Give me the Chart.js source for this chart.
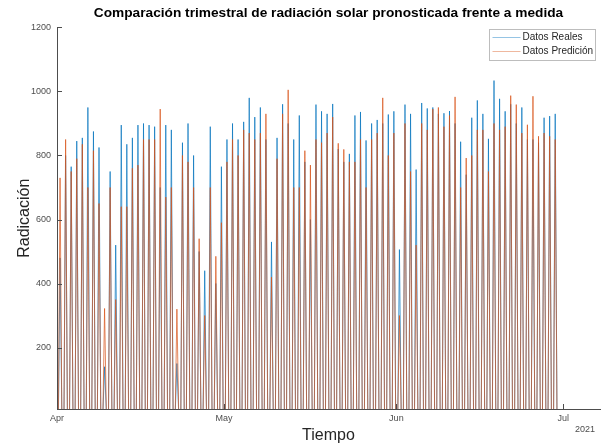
<!DOCTYPE html>
<html>
<head>
<meta charset="utf-8">
<script src="https://cdn.jsdelivr.net/npm/chart.js@4/dist/chart.umd.min.js"></script>
<style>
  html, body { margin: 0; padding: 0; background: #ffffff; }
  #wrap { width: 604px; height: 446px; }
</style>
</head>
<body>
<div id="wrap"><canvas id="c" width="604" height="446"></canvas></div>
<script>
// Daily peak irradiance, 1 Apr – 29 Jun 2021 (one value per day)
const realPeaks = [
  480, 800, 765, 845, 855, 950, 875, 825, 140, 750,
  520, 895, 835, 855, 895, 900, 895, 890, 700, 895,
  880, 150, 840, 900, 800, 500, 440, 890, 400, 765,
  850, 900, 850, 905, 980, 920, 950, 850, 530, 855,
  960, 900, 850, 925, 780, 600, 959, 938, 930, 961,
  820, 780, 805, 925, 936, 847, 900, 911, 900, 928,
  938, 506, 959, 930, 756, 964, 947, 950, 930, 932,
  939, 900, 843, 740, 918, 972, 930, 852, 1034, 977,
  938, 960, 900, 950, 850, 850, 840, 918, 923, 930
];
const predPeaks = [
  730, 850, 750, 790, 835, 700, 815, 650, 322, 700,
  350, 640, 640, 760, 770, 850, 850, 850, 945, 670,
  700, 320, 800, 780, 700, 540, 300, 700, 485, 590,
  780, 850, 800, 880, 870, 850, 870, 930, 420, 790,
  930, 1005, 700, 700, 815, 770, 850, 840, 870, 920,
  838, 819, 780, 780, 850, 700, 850, 870, 980, 800,
  870, 300, 900, 750, 520, 900, 880, 945, 950, 890,
  925, 983, 700, 792, 800, 880, 880, 750, 900, 880,
  890, 987, 959, 870, 896, 985, 860, 870, 860, 850
];

// Hours of the daily cycle: sunrise, solar peak, sunset
const sunriseHour = 6.2;
const peakHour = 13.2;
const sunsetHour = 20.8;

// Axis ticks (x in days since 1 Apr 2021)
const monthTickDays = [0, 30, 61, 91];
const monthTickLabels = ['Apr', 'May', 'Jun', 'Jul'];
const yTickValues = [200, 400, 600, 800, 1000, 1200];
const yearLabel = '2021';

const seriesNames = ['Datos Reales', 'Datos Predición'];
const seriesColors = ['#0072BD', '#D95319'];

function dailyCycle(peaks) {
  const pts = [];
  peaks.forEach((p, d) => {
    pts.push({ x: d + sunriseHour / 24, y: 0 });
    pts.push({ x: d + peakHour / 24, y: p });
    pts.push({ x: d + sunsetHour / 24, y: 0 });
  });
  return pts;
}

const FONT = '"Liberation Sans", Arial, Helvetica, sans-serif';
const AXIS_COLOR = '#4d4d4d';

// Inward tick marks, legend box and year label
const decorations = {
  id: 'decorations',
  afterDraw(chart) {
    const ctx = chart.ctx;
    const xs = chart.scales.x, ys = chart.scales.y;
    const area = chart.chartArea;
    ctx.save();
    ctx.strokeStyle = AXIS_COLOR;
    ctx.lineWidth = 1;
    ctx.beginPath();
    ys.ticks.forEach(t => {
      const y = Math.round(ys.getPixelForValue(t.value)) + 0.5;
      ctx.moveTo(area.left, y); ctx.lineTo(area.left + 5, y);
    });
    xs.ticks.forEach(t => {
      const x = Math.round(xs.getPixelForValue(t.value)) + 0.5;
      ctx.moveTo(x, area.bottom); ctx.lineTo(x, area.bottom - 5);
    });
    ctx.stroke();

    // year under the last month label
    ctx.fillStyle = AXIS_COLOR;
    ctx.font = '9px ' + FONT;
    ctx.textAlign = 'center';
    ctx.textBaseline = 'middle';
    ctx.fillText(yearLabel, 585, 430);

    // legend
    const bx = 489.5, by = 29.5, bw = 106, bh = 31;
    ctx.fillStyle = '#ffffff';
    ctx.fillRect(bx, by, bw, bh);
    ctx.strokeStyle = '#bdbdbd';
    ctx.strokeRect(bx, by, bw, bh);
    ctx.font = '10px ' + FONT;
    ctx.textAlign = 'left';
    seriesNames.forEach((name, i) => {
      const y = by + 8 + i * 14;
      ctx.strokeStyle = seriesColors[i];
      ctx.globalAlpha = 0.6;
      ctx.lineWidth = 0.7;
      ctx.beginPath();
      ctx.moveTo(bx + 3, y); ctx.lineTo(bx + 31, y);
      ctx.stroke();
      ctx.globalAlpha = 1;
      ctx.fillStyle = '#262626';
      ctx.fillText(name, bx + 33, y);
    });
    ctx.restore();
  }
};

new Chart(document.getElementById('c'), {
  type: 'line',
  data: {
    datasets: [
      {
        label: seriesNames[0],
        data: dailyCycle(realPeaks),
        borderColor: seriesColors[0],
        borderWidth: 0.7,
        pointRadius: 0,
        tension: 0,
        order: 1
      },
      {
        label: seriesNames[1],
        data: dailyCycle(predPeaks),
        borderColor: seriesColors[1],
        borderWidth: 0.7,
        pointRadius: 0,
        tension: 0,
        order: 0
      }
    ]
  },
  options: {
    responsive: false,
    animation: false,
    devicePixelRatio: 1,
    layout: { padding: { left: 0, right: 4, top: 0, bottom: 0 } },
    plugins: {
      legend: { display: false },
      tooltip: { enabled: false },
      title: {
        display: true,
        fullSize: false,
        text: 'Comparación trimestral de radiación solar pronosticada frente a medida',
        color: '#000000',
        font: { family: FONT, size: 13.7, weight: 'bold' },
        padding: { top: 5, bottom: 6 }
      }
    },
    scales: {
      x: {
        type: 'linear',
        min: 0,
        max: 97.6,
        afterBuildTicks: s => { s.ticks = monthTickDays.map(v => ({ value: v })); },
        afterFit: s => { s.height = 37; },
        grid: { display: true, drawOnChartArea: false, drawTicks: false },
        border: { display: true, color: AXIS_COLOR, width: 1 },
        ticks: {
          autoSkip: false,
          maxRotation: 0,
          padding: 4,
          color: AXIS_COLOR,
          font: { family: FONT, size: 9 },
          callback: (v, i) => monthTickLabels[i]
        },
        title: {
          display: true,
          text: 'Tiempo',
          color: '#262626',
          font: { family: FONT, size: 16 },
          padding: { top: 0, bottom: 1 }
        }
      },
      y: {
        min: 8,
        max: 1200,
        afterBuildTicks: s => { s.ticks = yTickValues.map(v => ({ value: v })); },
        afterFit: s => { s.width = 57; },
        grid: { display: true, drawOnChartArea: false, drawTicks: false },
        border: { display: true, color: AXIS_COLOR, width: 1 },
        ticks: {
          padding: 6,
          color: AXIS_COLOR,
          font: { family: FONT, size: 9 },
          callback: v => String(v)
        },
        title: {
          display: true,
          text: 'Radicación',
          color: '#262626',
          font: { family: FONT, size: 16 },
          padding: { top: 15, bottom: 0 }
        }
      }
    }
  },
  plugins: [decorations]
});
</script>
</body>
</html>
